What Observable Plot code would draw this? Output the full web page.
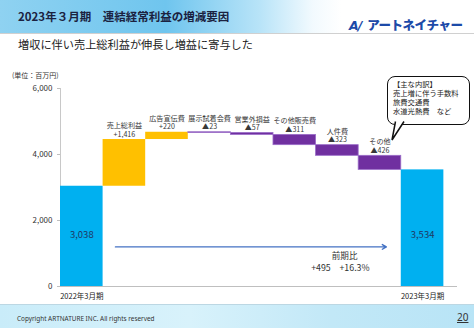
<!DOCTYPE html>
<html>
<head>
<meta charset="utf-8">
<script src="https://cdn.jsdelivr.net/npm/d3@7"></script>
<script src="https://cdn.jsdelivr.net/npm/@observablehq/plot@0.6"></script>
<style>
  html, body { margin: 0; padding: 0; background: #fff; }
  #page { position: relative; width: 474px; height: 328px; overflow: hidden; font-family: "Noto Sans CJK JP", "Noto Sans", sans-serif; color: #222; }
  #header { position: absolute; left: 0; top: 0; width: 474px; height: 33px;
    background: linear-gradient(to right, #8fd2f1 0%, #6fc5ee 35%, #b9e4f8 55%, #f2fafe 66%, #ffffff 72%);
    border-bottom: 1px solid #d0d0d0; }
  #title { position: absolute; left: 18px; top: 8px; font-size: 11.5px; font-weight: bold; color: #1b2240; white-space: nowrap; }
  #logo { position: absolute; left: 349px; top: 15px; font-size: 12.5px; font-weight: 900; color: #1c4aa8; white-space: nowrap; letter-spacing: -0.5px; }
  #logo .mark { font-style: italic; font-family: "DejaVu Sans", sans-serif; margin-right: 6px; letter-spacing: -1px; }
  #subtitle { position: absolute; left: 18px; top: 36px; font-size: 11.2px; color: #222; white-space: nowrap; }
  #unit { position: absolute; left: 12px; top: 70px; font-size: 7px; color: #333; white-space: nowrap; }
  #chart { position: absolute; left: 0; top: 60px; }
  #footer { position: absolute; left: 0; top: 304px; width: 474px; height: 24px;
    background: linear-gradient(to right, #c9ecf9 0%, #d8f2fb 40%, #c2e8f7 70%, #b8e4f6 100%);
    border-top: 1px solid #bcd7e3; }
  #copy { position: absolute; left: 17px; top: 9px; font-size: 6.4px; color: #333; white-space: nowrap; font-family: "Noto Sans", sans-serif; }
  #pageno { position: absolute; left: 457px; top: 5px; font-size: 10px; color: #333; text-decoration: underline; font-family: "Noto Sans", sans-serif; }
  #callout { position: absolute; left: 387px; top: 76px; width: 76px; height: 44px; border: 1.5px solid #111; border-radius: 8px; background: #fff;
    font-size: 7.3px; line-height: 9px; padding: 3px 0 0 5px; color: #222; white-space: nowrap; box-sizing: content-box; }
  #tail { position: absolute; left: 0; top: 0; pointer-events: none; }
</style>
</head>
<body>
<div id="page">
  <div id="header">
    <div id="title">2023年３月期　連結経常利益の増減要因</div>
    <div id="logo"><span class="mark">A/</span>アートネイチャー</div>
  </div>
  <div id="subtitle">増収に伴い売上総利益が伸長し増益に寄与した</div>
  <div id="unit">(単位：百万円)</div>
  <div id="chart"></div>
  <div id="callout">【主な内訳】<br>売上増に伴う手数料<br>旅費交通費<br>水道光熱費　など</div>
  <svg id="tail" width="474" height="328">
    <polygon points="395.5,120.8 404,120.8 392,140" fill="#fff" stroke="none"></polygon>
    <polyline points="395.5,121.5 392,140 404,121.5" fill="none" stroke="#111" stroke-width="1.5" stroke-linejoin="miter"></polyline>
  </svg>
  <div id="footer">
    <div id="copy">Copyright ARTNATURE INC. All rights reserved</div>
    <div id="pageno">20</div>
  </div>
</div>
<script>
// ---- data ----
const categories = ["2022年3月期", "売上総利益", "広告宣伝費", "展示試着会費", "営業外損益", "その他販売費", "人件費", "その他", "2023年3月期"];
const values = [3038, 1416, 220, -23, -57, -311, -323, -426, 3534];
const kinds = ["total", "up", "up", "down", "down", "down", "down", "down", "total"];
const yTicks = [0, 2000, 4000, 6000];
const compareLabel = "前期比";
const compareValues = "+495　+16.3%";

// ---- build waterfall rows ----
const colors = { total: "#00B0F0", up: "#FFC000", down: "#7030A0" };
let running = 0;
const rows = categories.map((c, i) => {
  const v = values[i];
  const k = kinds[i];
  let y1, y2;
  if (k === "total") { y1 = 0; y2 = v; running = v; }
  else { y1 = running; y2 = running + v; running = y2; }
  return { i, category: c, value: v, kind: k, y1, y2, top: Math.max(y1, y2) };
});
const fmt = d3.format(",");
const steps = rows.filter(d => d.kind !== "total");
const totals = rows.filter(d => d.kind === "total");
const stepLabel = d => d.category + "\n" + (d.value > 0 ? "+" + fmt(d.value) : "▲" + fmt(-d.value));

const xDomain = [-0.5, 8.82];
const first = totals[0], last = totals[totals.length - 1];

const chart = Plot.plot({
  width: 474,
  height: 245,
  marginTop: 28,
  marginBottom: 19,
  marginLeft: 60,
  marginRight: 17,
  style: { fontFamily: "'Noto Sans CJK JP', sans-serif", background: "transparent", color: "#333" },
  x: { type: "linear", domain: xDomain, axis: null },
  y: { domain: [0, 6000], axis: null },
  marks: [
    Plot.axisY({ ticks: yTicks, tickFormat: fmt, tickSize: 3, tickPadding: 5, fontSize: 8, stroke: "#bfbfbf", fill: "#333", label: null }),
    Plot.ruleX([xDomain[0]], { y1: 0, y2: 6000, stroke: "#c8c8c8" }),
    Plot.rect(rows, {
      x1: d => d.i - 0.5, x2: d => d.i + 0.5, y1: "y1", y2: "y2",
      fill: d => colors[d.kind],
      stroke: d => d.kind === "down" ? "#9a6cc8" : "none",
      strokeWidth: 0.8
    }),
    Plot.ruleY([0], { stroke: "#bfbfbf" }),
    Plot.text(steps, {
      x: "i", y: "top", text: stepLabel, lineAnchor: "bottom", dy: -3,
      fontSize: 7.1, lineHeight: 1.2, fill: "#383838"
    }),
    Plot.text(totals, { x: "i", y: 1550, text: d => fmt(d.value), fontSize: 9.5, fill: "#1F3864" }),
    Plot.text(totals, { x: "i", y: 0, text: "category", dy: 10, fontSize: 7.5, fill: "#222" }),
    Plot.arrow([{ x1: first.i + 0.79, x2: last.i - 0.85, y: 1200 }], {
      x1: "x1", x2: "x2", y1: "y", y2: "y", stroke: "#4472C4", strokeWidth: 1.4, headLength: 5, bend: 0
    }),
    Plot.text([compareLabel], { x: 6.17, y: 910, text: d => d, fontSize: 8.6, fill: "#333" }),
    Plot.text([compareValues], { x: 6.07, y: 555, text: d => d, fontSize: 8.8, fill: "#333" })
  ]
});
document.getElementById("chart").appendChild(chart);
</script>
</body>
</html>
